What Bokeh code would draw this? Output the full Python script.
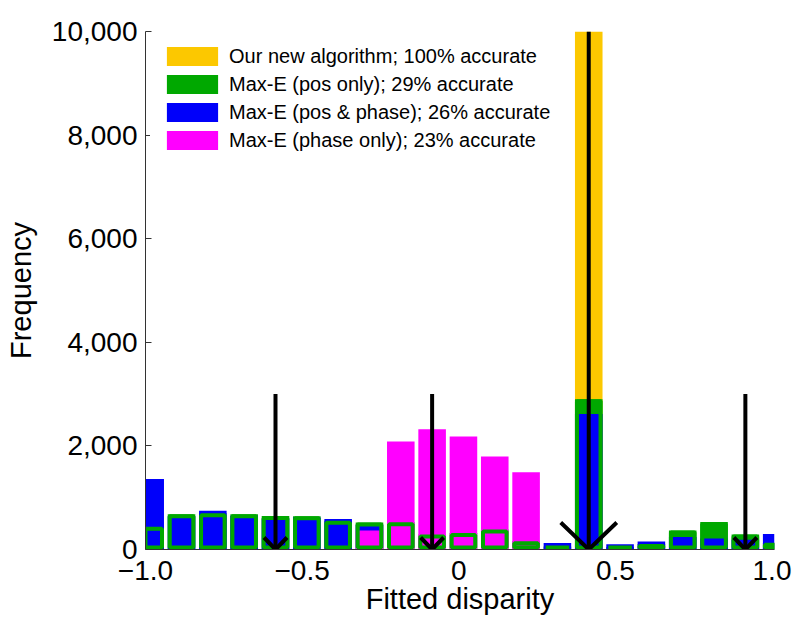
from bokeh.plotting import figure
from bokeh.models import Range1d, FixedTicker, NumeralTickFormatter, Legend, LegendItem
from bokeh.embed import file_html
from bokeh.resources import INLINE

# ---- data ----
bin_centers = [-0.985, -0.885, -0.785, -0.685, -0.585, -0.485, -0.385, -0.285, -0.185, -0.085,
               0.015, 0.115, 0.215, 0.315, 0.415, 0.515, 0.615, 0.715, 0.815, 0.915, 1.015]
ours =       [0, 0, 0, 0, 0, 0, 0, 0, 0, 0, 0, 0, 0, 0, 10300, 0, 0, 0, 0, 0, 0]
pos_only =   [440, 680, 700, 680, 645, 640, 557, 520, 525, 290, 320, 385, 160, 60, 2900, 50, 105, 365, 530, 290, 130]
pos_phase =  [1360, 640, 750, 650, 600, 620, 590, 480, 0, 0, 0, 0, 0, 125, 2615, 100, 155, 240, 210, 190, 300]
phase_only = [0, 0, 0, 0, 0, 0, 0, 365, 2085, 2320, 2180, 1795, 1490, 0, 0, 0, 0, 0, 0, 0, 0]

arrow_x = [-0.585, -0.085, 0.415, 0.915]
arrow_top = [3000, 3000, 10000, 3000]

labels = ["Our new algorithm; 100% accurate",
          "Max-E (pos only); 29% accurate",
          "Max-E (pos & phase); 26% accurate",
          "Max-E (phase only); 23% accurate"]

x_ticks = [-1.0, -0.5, 0.0, 0.5, 1.0]
x_tick_labels = ["\u22121.0", "\u22120.5", "0", "0.5", "1.0"]
y_ticks = [0, 2000, 4000, 6000, 8000, 10000]

# ---- style ----
ORANGE = "#FCC800"
GREEN = "#00A800"
BLUE = "#0000FA"
MAGENTA = "#FF00FF"
FONT = "Liberation Sans"
X0, X1 = -1.0, 1.008
Y0, Y1 = 0, 10000
FW, FH = 629, 518
BAR_W = 0.088
OUTLINE_PX = 4
px_x = FW / (X1 - X0)
px_y = FH / (Y1 - Y0)

p = figure(frame_width=FW, frame_height=FH,
           min_border_left=145, min_border_top=31, min_border_right=24, min_border_bottom=10,
           x_range=Range1d(X0, X1), y_range=Range1d(Y0, Y1),
           output_backend="svg", toolbar_location=None)
p.outline_line_color = None
p.grid.visible = False
p.background_fill_color = "white"
p.border_fill_color = "white"

r_or = p.vbar(x=bin_centers, top=ours, width=BAR_W, fill_color=ORANGE, line_color=None)
r_gr = p.vbar(x=bin_centers, top=pos_only, width=BAR_W, fill_color=GREEN, line_color=None)
r_bl = p.vbar(x=bin_centers, top=pos_phase, width=BAR_W, fill_color=BLUE, line_color=None)
r_mg = p.vbar(x=bin_centers, top=phase_only, width=BAR_W, fill_color=MAGENTA, line_color=None)

# green outline drawn on top (inset so its outer edge matches the bar edge)
inset_x = OUTLINE_PX / 2 / px_x
inset_y = OUTLINE_PX / 2 / px_y
out_top = [max(v - inset_y, inset_y) for v in pos_only]
p.vbar(x=bin_centers, top=out_top, bottom=inset_y, width=BAR_W - 2 * inset_x,
       fill_color=None, line_color=GREEN, line_width=OUTLINE_PX)

# arrows
p.segment(x0=arrow_x, y0=arrow_top, x1=arrow_x, y1=[0] * len(arrow_x),
          line_color="black", line_width=4)
head_xs, head_ys = [], []
for x, t in zip(arrow_x, arrow_top):
    big = t >= Y1
    hw = (28 if big else 11.5) / px_x
    hh = (27 if big else 12) / px_y
    head_xs.append([x - hw, x, x + hw])
    head_ys.append([hh, 0, hh])
p.multi_line(xs=head_xs, ys=head_ys, line_color="black", line_width=4, line_join="miter")

# axes
p.xaxis.ticker = FixedTicker(ticks=x_ticks)
p.xaxis.major_label_overrides = {t: l for t, l in zip(x_ticks, x_tick_labels)}
p.yaxis.ticker = FixedTicker(ticks=y_ticks)
p.yaxis.formatter = NumeralTickFormatter(format="0,0")
for ax in (p.xaxis[0], p.yaxis[0]):
    ax.axis_line_color = "#333333"
    ax.axis_line_width = 1
    ax.minor_tick_line_color = None
    ax.major_label_text_font = FONT
    ax.major_label_text_font_size = "28px"
    ax.major_label_text_color = "black"
    ax.axis_label_text_font = FONT
    ax.axis_label_text_font_size = "29px"
    ax.axis_label_text_font_style = "normal"
    ax.axis_label_text_color = "black"
p.yaxis.major_tick_in = 6
p.yaxis.major_tick_out = 0
p.yaxis.major_tick_line_color = "#333333"
p.xaxis.major_tick_in = 0
p.xaxis.major_tick_out = 0
p.yaxis.major_label_standoff = 8
p.xaxis.major_label_standoff = 11
p.yaxis.axis_label = "Frequency"
p.xaxis.axis_label = "Fitted disparity"
p.yaxis.axis_label_standoff = 12
p.xaxis.axis_label_standoff = 0

legend = Legend(items=[LegendItem(label=labels[0], renderers=[r_or]),
                       LegendItem(label=labels[1], renderers=[r_gr]),
                       LegendItem(label=labels[2], renderers=[r_bl]),
                       LegendItem(label=labels[3], renderers=[r_mg])],
                location=(5, 387), margin=0, padding=10, spacing=4,
                glyph_width=64, glyph_height=24, label_standoff=5,
                label_text_font=FONT, label_text_font_size="20px",
                label_text_color="black",
                background_fill_color="white", background_fill_alpha=1.0,
                border_line_alpha=0)
p.add_layout(legend)

open("out.html", "w").write(file_html(p, INLINE))
